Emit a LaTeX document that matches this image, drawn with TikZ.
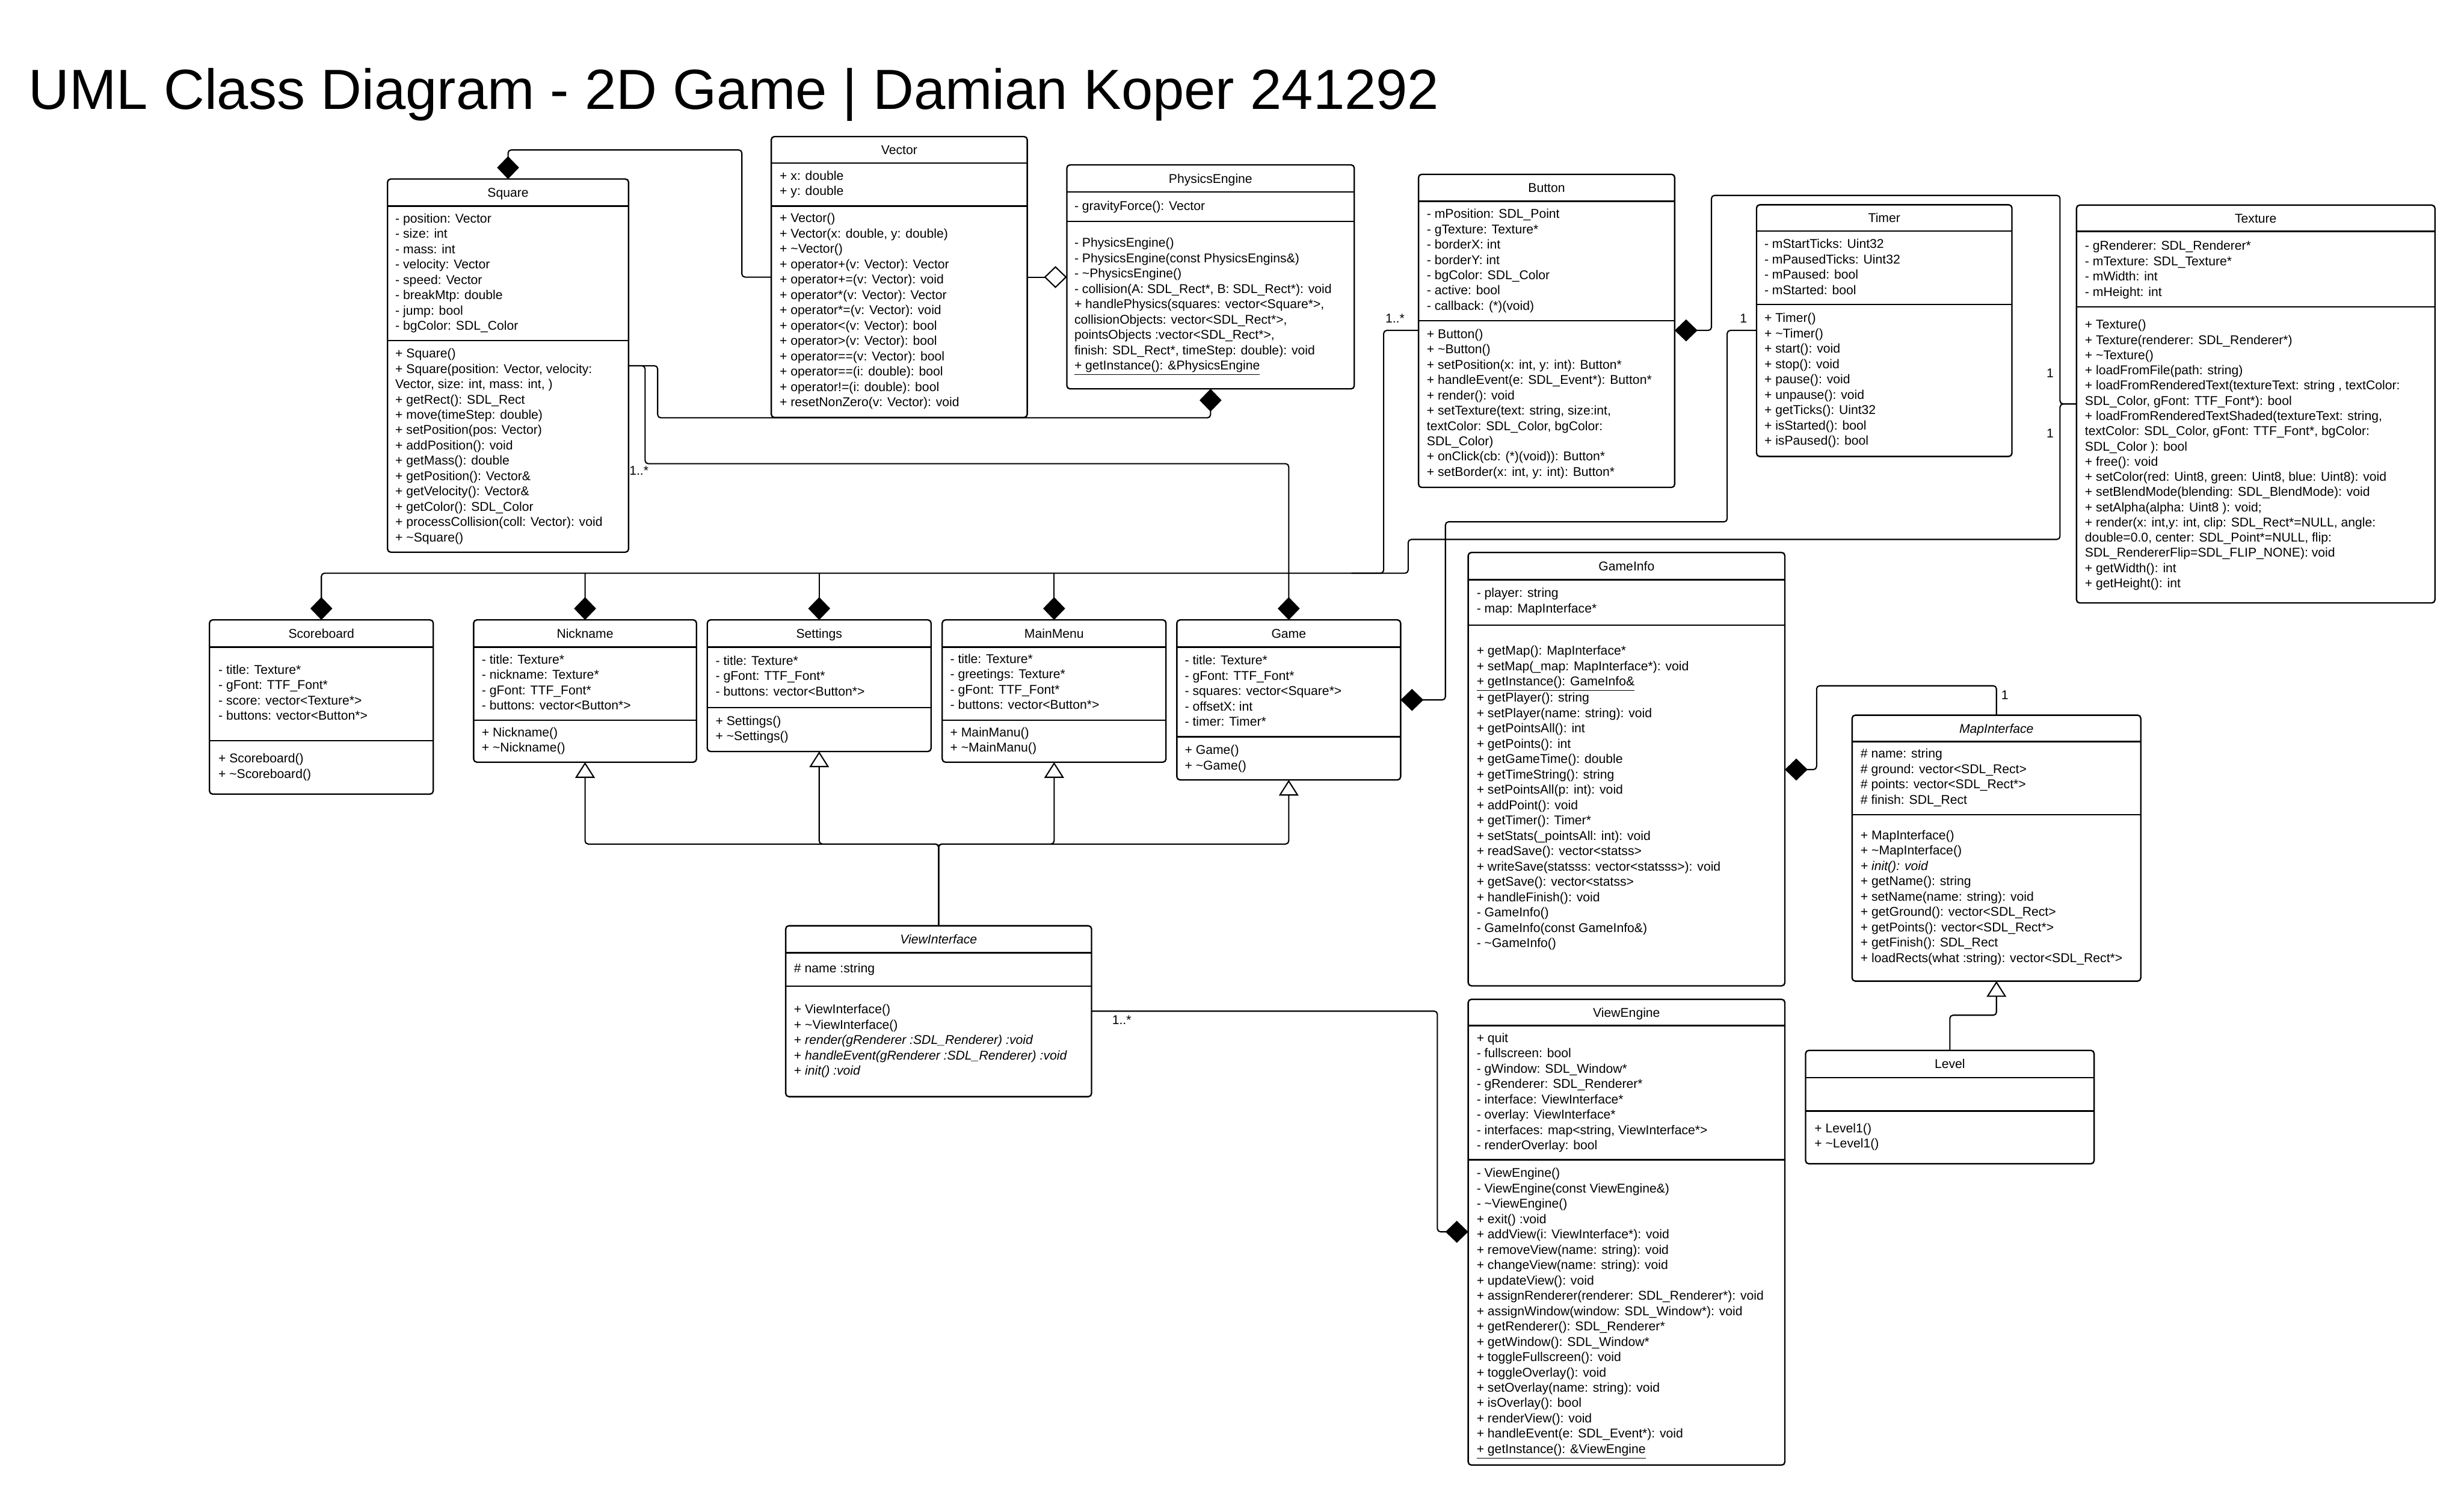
\documentclass[tikz,border=0pt]{standalone}
\usepackage{fontspec}
\setmainfont{Liberation Sans}
\usetikzlibrary{arrows.meta}
\newcommand{\rows}[1]{\begin{tabular}{@{}l@{}}#1\end{tabular}}
\newcommand{\umlclass}[7]{%
  \node[classbox, anchor=north west, minimum width={#4pt-#2pt}, minimum height={#5pt-#3pt}] (#1) at (#2,#3) {};
  \draw[boxline] (#2,#6) -- (#4,#6);
  \draw[boxline] (#2,#7) -- (#4,#7);
}
\begin{document}
\begin{tikzpicture}[x=1pt,y=-1pt,
  classbox/.style={draw, line width=0.9pt, rounded corners=2pt, inner sep=0pt, outer sep=0pt, fill=white},
  boxline/.style={line width=0.9pt},
  txt/.style={anchor=north west, inner sep=0pt, font=\fontsize{8.1}{9.75}\selectfont},
  hdr/.style={anchor=center, inner sep=0pt, font=\fontsize{8.1}{9.75}\selectfont, text height=5.8pt, text depth=0pt},
  lbl/.style={anchor=center, inner sep=0pt, font=\fontsize{8.1}{9.75}\selectfont},
  conn/.style={draw, line width=0.8pt, rounded corners=2pt},
  comp/.style={-{Diamond[length=14.5pt,width=14pt]}},
  aggr/.style={-{Diamond[open,length=14.5pt,width=14pt,fill=white]}},
  gen/.style={-{Triangle[open,length=10pt,width=12.5pt,fill=white]}}
]
\useasboundingbox (0,0) rectangle (1568,950.4);
\fill[white] (0,0) rectangle (1568,950.4);

\node[anchor=base west, inner sep=0pt, font=\fontsize{36}{43}\selectfont] (title) at (18,69.5) {UML Class Diagram - 2D Game | Damian Koper 241292};

% ---------- boxes ----------
\umlclass{Square}{246.6}{113.9}{400.0}{351.3}{131.1}{216.7}
\umlclass{Vector}{490.8}{86.9}{653.7}{265.6}{103.8}{131.1}
\umlclass{PhysicsEngine}{678.9}{104.9}{861.8}{247.4}{122.1}{140.9}
\umlclass{Button}{902.7}{110.9}{1065.7}{310.1}{128.0}{204.0}
\umlclass{Timer}{1117.8}{130.3}{1280.3}{290.4}{147.1}{193.8}
\umlclass{Texture}{1321.4}{130.5}{1549.5}{383.6}{147.2}{195.2}
\umlclass{Scoreboard}{133.3}{394.4}{275.7}{505.2}{411.7}{471.2}
\umlclass{Nickname}{301.4}{394.4}{443.2}{484.9}{411.7}{458.2}
\umlclass{Settings}{450.1}{394.4}{592.5}{478.1}{411.7}{450.2}
\umlclass{MainMenu}{599.6}{394.4}{742.0}{484.9}{411.7}{458.2}
\umlclass{Game}{748.9}{394.4}{891.3}{496.2}{411.7}{468.8}
\umlclass{GameInfo}{934.3}{351.5}{1135.8}{627.2}{368.8}{397.7}
\umlclass{MapInterface}{1178.6}{455.0}{1362.3}{624.2}{471.8}{518.4}
\umlclass{Level}{1149.0}{668.3}{1332.6}{740.4}{685.6}{706.9}
\umlclass{ViewInterface}{500.0}{589.0}{694.6}{697.7}{606.2}{627.5}
\umlclass{ViewEngine}{934.3}{635.8}{1135.8}{932.1}{652.5}{737.8}

% ---------- connectors ----------
\draw[conn,comp] (Vector.west |- 0,176.3) -- (472.1,176.3) -- (472.1,95.4) -- (323.3,95.4) -- (Square.north);
\draw[conn,aggr] (Vector.east |- 0,176.3) -- (PhysicsEngine.west |- 0,176.3);
\draw[conn,comp] (Square.east |- 0,232.7) -- (418.5,232.7) -- (418.5,265.8) -- (770.35,265.8) -- (PhysicsEngine.south);
\draw[conn,comp] (Square.east |- 0,232.7) -- (410.5,232.7) -- (410.5,295.0) -- (820.1,295.0) -- (Game.north);
\draw[conn,comp] (Texture.west |- 0,257.0) -- (1310.9,257.0) -- (1310.9,343.2) -- (896.1,343.2) -- (896.1,364.7) -- (204.5,364.7) -- (Scoreboard.north);
\draw[conn] (Button.west |- 0,210.2) -- (880.5,210.2) -- (880.5,364.7) -- (860,364.7);
\draw[conn,comp] (372.3,364.7) -- (Nickname.north);
\draw[conn,comp] (521.3,364.7) -- (Settings.north);
\draw[conn,comp] (670.8,364.7) -- (MainMenu.north);
\draw[conn,comp] (Texture.west |- 0,257.0) -- (1310.9,257.0) -- (1310.9,124.3) -- (1089.1,124.3) -- (1089.1,210.2) -- (Button.east |- 0,210.2);
\draw[conn,comp] (Timer.west |- 0,210.2) -- (1099.1,210.2) -- (1099.1,332.0) -- (919.8,332.0) -- (919.8,445.3) -- (Game.east |- 0,445.3);
\draw[conn,comp] (MapInterface.north) -- (1270.45,436.3) -- (1156,436.3) -- (1156,489.6) -- (GameInfo.east |- 0,489.6);
\draw[conn,gen] (Level.north) -- (1240.8,645.9) -- (1270.45,645.9) -- (MapInterface.south);
\draw[conn,gen] (ViewInterface.north) -- (597.3,537.0) -- (372.3,537.0) -- (Nickname.south);
\draw[conn,gen] (ViewInterface.north) -- (597.3,537.0) -- (521.3,537.0) -- (Settings.south);
\draw[conn,gen] (ViewInterface.north) -- (597.3,537.0) -- (670.8,537.0) -- (MainMenu.south);
\draw[conn,gen] (ViewInterface.north) -- (597.3,537.0) -- (820.1,537.0) -- (Game.south);
\draw[conn,comp] (ViewInterface.east |- 0,643.3) -- (914.7,643.3) -- (914.7,783.7) -- (ViewEngine.west |- 0,783.7);

% ---------- multiplicities ----------
\node[lbl] (mButton) at (887.7,202.6) {1..*};
\node[lbl] (mTimer) at (1109.5,202.7) {1};
\node[lbl] (mTexA) at (1304.6,237.5) {1};
\node[lbl] (mTexB) at (1304.6,275.6) {1};
\node[lbl] (mMap) at (1275.8,442.2) {1};
\node[lbl] (mSquare) at (406.6,299.5) {1..*};
\node[lbl] (mView) at (713.8,649.0) {1..*};

% ---------- headers ----------
\node[hdr] (hSquare) at (323.3,122.5) {Square};
\node[hdr] (hVector) at (572.25,95.35) {Vector};
\node[hdr] (hPhys) at (770.35,113.5) {PhysicsEngine};
\node[hdr] (hButton) at (984.2,119.45) {Button};
\node[hdr] (hTimer) at (1199.05,138.7) {Timer};
\node[hdr] (hTexture) at (1435.45,138.85) {Texture};
\node[hdr] (hScore) at (204.5,403.05) {Scoreboard};
\node[hdr] (hNick) at (372.3,403.05) {Nickname};
\node[hdr] (hSet) at (521.3,403.05) {Settings};
\node[hdr] (hMenu) at (670.8,403.05) {MainMenu};
\node[hdr] (hGame) at (820.1,403.05) {Game};
\node[hdr] (hGInfo) at (1035.05,360.15) {GameInfo};
\node[hdr,font=\fontsize{8.1}{9.75}\selectfont\itshape] (hMap) at (1270.45,463.4) {MapInterface};
\node[hdr] (hLevel) at (1240.8,676.95) {Level};
\node[hdr,font=\fontsize{8.1}{9.75}\selectfont\itshape] (hVI) at (597.3,597.6) {ViewInterface};
\node[hdr] (hVE) at (1035.05,644.15) {ViewEngine};

% ---------- compartments ----------
\node[txt] (aSquare) at (251.4,134.8) {\rows{- position: Vector\\- size: int\\- mass: int\\- velocity: Vector\\- speed: Vector\\- breakMtp: double\\- jump: bool\\- bgColor: SDL\_Color}};
\node[txt] (oSquare) at (251.4,220.6) {\rows{+ Square()\\+ Square(position: Vector, velocity:\\Vector, size: int, mass: int, )\\+ getRect(): SDL\_Rect\\+ move(timeStep: double)\\+ setPosition(pos: Vector)\\+ addPosition(): void\\+ getMass(): double\\+ getPosition(): Vector\&\\+ getVelocity(): Vector\&\\+ getColor(): SDL\_Color\\+ processCollision(coll: Vector): void\\+ \textasciitilde Square()}};

\node[txt] (aVector) at (496.0,107.5) {\rows{+ x: double\\+ y: double}};
\node[txt] (oVector) at (496.0,134.6) {\rows{+ Vector()\\+ Vector(x: double, y: double)\\+ \textasciitilde Vector()\\+ operator+(v: Vector): Vector\\+ operator+=(v: Vector): void\\+ operator*(v: Vector): Vector\\+ operator*=(v: Vector): void\\+ operator<(v: Vector): bool\\+ operator>(v: Vector): bool\\+ operator==(v: Vector): bool\\+ operator==(i: double): bool\\+ operator!=(i: double): bool\\+ resetNonZero(v: Vector): void}};

\node[txt] (aPhys) at (683.5,126.7) {\rows{- gravityForce(): Vector}};
\node[txt] (oPhys) at (683.5,150.3) {\rows{- PhysicsEngine()\\- PhysicsEngine(const PhysicsEngins\&)\\- \textasciitilde PhysicsEngine()\\- collision(A: SDL\_Rect*, B: SDL\_Rect*): void\\+ handlePhysics(squares: vector<Square*>,\\collisionObjects: vector<SDL\_Rect*>,\\pointsObjects :vector<SDL\_Rect*>,\\finish: SDL\_Rect*, timeStep: double): void\\\underline{+ getInstance(): \&PhysicsEngine}}};

\node[txt] (aButton) at (907.8,131.8) {\rows{- mPosition: SDL\_Point\\- gTexture: Texture*\\- borderX: int\\- borderY: int\\- bgColor: SDL\_Color\\- active: bool\\- callback: (*)(void)}};
\node[txt] (oButton) at (907.8,208.2) {\rows{+ Button()\\+ \textasciitilde Button()\\+ setPosition(x: int, y: int): Button*\\+ handleEvent(e: SDL\_Event*): Button*\\+ render(): void\\+ setTexture(text: string, size:int,\\textColor: SDL\_Color, bgColor:\\SDL\_Color)\\+ onClick(cb: (*)(void)): Button*\\+ setBorder(x: int, y: int): Button*}};

\node[txt] (aTimer) at (1122.6,151.0) {\rows{- mStartTicks: Uint32\\- mPausedTicks: Uint32\\- mPaused: bool\\- mStarted: bool}};
\node[txt] (oTimer) at (1122.6,198.1) {\rows{+ Timer()\\+ \textasciitilde Timer()\\+ start(): void\\+ stop(): void\\+ pause(): void\\+ unpause(): void\\+ getTicks(): Uint32\\+ isStarted(): bool\\+ isPaused(): bool}};

\node[txt] (aTexture) at (1326.6,152.1) {\rows{- gRenderer: SDL\_Renderer*\\- mTexture: SDL\_Texture*\\- mWidth: int\\- mHeight: int}};
\node[txt,font=\fontsize{8.1}{9.67}\selectfont] (oTexture) at (1326.6,202.4) {\rows{+ Texture()\\+ Texture(renderer: SDL\_Renderer*)\\+ \textasciitilde Texture()\\+ loadFromFile(path: string)\\+ loadFromRenderedText(textureText: string , textColor:\\SDL\_Color, gFont: TTF\_Font*): bool\\+ loadFromRenderedTextShaded(textureText: string,\\textColor: SDL\_Color, gFont: TTF\_Font*, bgColor:\\SDL\_Color ): bool\\+ free(): void\\+ setColor(red: Uint8, green: Uint8, blue: Uint8): void\\+ setBlendMode(blending: SDL\_BlendMode): void\\+ setAlpha(alpha: Uint8 ): void;\\+ render(x: int,y: int, clip: SDL\_Rect*=NULL, angle:\\double=0.0, center: SDL\_Point*=NULL, flip:\\SDL\_RendererFlip=SDL\_FLIP\_NONE): void\\+ getWidth(): int\\+ getHeight(): int}};

\node[txt] (aScore) at (138.8,421.9) {\rows{- title: Texture*\\- gFont: TTF\_Font*\\- score: vector<Texture*>\\- buttons: vector<Button*>}};
\node[txt] (oScore) at (138.8,478.2) {\rows{+ Scoreboard()\\+ \textasciitilde Scoreboard()}};

\node[txt] (aNick) at (306.4,415.3) {\rows{- title: Texture*\\- nickname: Texture*\\- gFont: TTF\_Font*\\- buttons: vector<Button*>}};
\node[txt] (oNick) at (306.4,461.7) {\rows{+ Nickname()\\+ \textasciitilde Nickname()}};

\node[txt] (aSet) at (455.2,416.1) {\rows{- title: Texture*\\- gFont: TTF\_Font*\\- buttons: vector<Button*>}};
\node[txt] (oSet) at (455.2,454.4) {\rows{+ Settings()\\+ \textasciitilde Settings()}};

\node[txt] (aMenu) at (604.5,415.0) {\rows{- title: Texture*\\- greetings: Texture*\\- gFont: TTF\_Font*\\- buttons: vector<Button*>}};
\node[txt] (oMenu) at (604.5,461.7) {\rows{+ MainManu()\\+ \textasciitilde MainManu()}};

\node[txt] (aGame) at (753.8,415.9) {\rows{- title: Texture*\\- gFont: TTF\_Font*\\- squares: vector<Square*>\\- offsetX: int\\- timer: Timer*}};
\node[txt] (oGame) at (753.8,473.0) {\rows{+ Game()\\+ \textasciitilde Game()}};

\node[txt] (aGInfo) at (939.5,373.0) {\rows{- player: string\\- map: MapInterface*}};
\node[txt] (oGInfo) at (939.5,409.7) {\rows{+ getMap(): MapInterface*\\+ setMap(\_map: MapInterface*): void\\\underline{+ getInstance(): GameInfo\&}\\+ getPlayer(): string\\+ setPlayer(name: string): void\\+ getPointsAll(): int\\+ getPoints(): int\\+ getGameTime(): double\\+ getTimeString(): string\\+ setPointsAll(p: int): void\\+ addPoint(): void\\+ getTimer(): Timer*\\+ setStats(\_pointsAll: int): void\\+ readSave(): vector<statss>\\+ writeSave(statsss: vector<statsss>): void\\+ getSave(): vector<statss>\\+ handleFinish(): void\\- GameInfo()\\- GameInfo(const GameInfo\&)\\- \textasciitilde GameInfo()}};

\node[txt] (aMap) at (1183.8,475.3) {\rows{\# name: string\\\# ground: vector<SDL\_Rect>\\\# points: vector<SDL\_Rect*>\\\# finish: SDL\_Rect}};
\node[txt] (oMap) at (1183.8,527.1) {\rows{+ MapInterface()\\+ \textasciitilde MapInterface()\\\textit{+ init(): void}\\+ getName(): string\\+ setName(name: string): void\\+ getGround(): vector<SDL\_Rect>\\+ getPoints(): vector<SDL\_Rect*>\\+ getFinish(): SDL\_Rect\\+ loadRects(what :string): vector<SDL\_Rect*>}};

\node[txt] (oLevel) at (1154.5,713.6) {\rows{+ Level1()\\+ \textasciitilde Level1()}};

\node[txt] (aVI) at (505.1,611.7) {\rows{\# name :string}};
\node[txt] (oVI) at (505.1,637.9) {\rows{+ ViewInterface()\\+ \textasciitilde ViewInterface()\\+ \textit{render(gRenderer :SDL\_Renderer) :void}\\+ \textit{handleEvent(gRenderer :SDL\_Renderer) :void}\\+ \textit{init() :void}}};

\node[txt] (aVE) at (939.5,656.1) {\rows{+ quit\\- fullscreen: bool\\- gWindow: SDL\_Window*\\- gRenderer: SDL\_Renderer*\\- interface: ViewInterface*\\- overlay: ViewInterface*\\- interfaces: map<string, ViewInterface*>\\- renderOverlay: bool}};
\node[txt] (oVE) at (939.5,742.1) {\rows{- ViewEngine()\\- ViewEngine(const ViewEngine\&)\\- \textasciitilde ViewEngine()\\+ exit() :void\\+ addView(i: ViewInterface*): void\\+ removeView(name: string): void\\+ changeView(name: string): void\\+ updateView(): void\\+ assignRenderer(renderer: SDL\_Renderer*): void\\+ assignWindow(window: SDL\_Window*): void\\+ getRenderer(): SDL\_Renderer*\\+ getWindow(): SDL\_Window*\\+ toggleFullscreen(): void\\+ toggleOverlay(): void\\+ setOverlay(name: string): void\\+ isOverlay(): bool\\+ renderView(): void\\+ handleEvent(e: SDL\_Event*): void\\\underline{+ getInstance(): \&ViewEngine}}};
\end{tikzpicture}
\end{document}
